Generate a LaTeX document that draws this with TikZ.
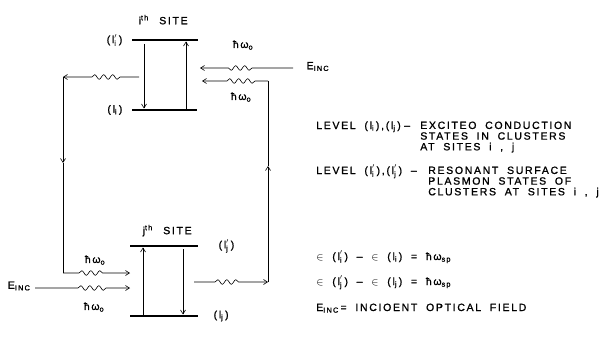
\documentclass[tikz,border=0pt]{standalone}
\usepackage{amsmath}
\usepackage{fontspec}
\setmainfont{Liberation Sans}[LetterSpace=16,WordSpace=1.9,FakeBold=1.2]
\usetikzlibrary{arrows.meta, positioning, calc, decorations.pathmorphing}

\begin{document}
\begin{tikzpicture}[x=1pt, y=-1pt, >={Straight Barb[length=4pt,width=5pt]}, line width=0.6pt,
    font=\fontsize{10.5}{10.7}\selectfont,
    lvl/.style={line width=1.8pt},
    txt/.style={inner sep=0pt, align=left},
    photon/.style 2 args={decorate, decoration={snake, amplitude=2.3pt, segment length=9pt, pre length=#1, post length=#2}}]
    \useasboundingbox (0,0) rectangle (611,337);

    % Site i: two levels with up and down transitions
    \coordinate (uiW) at (132,40);  \coordinate (uiE) at (198,40);
    \coordinate (liW) at (132,110); \coordinate (liE) at (197,110);
    \draw[lvl] (uiW) -- (uiE);
    \draw[lvl] (liW) -- (liE);
    \draw[->] ($(uiW)+(12,4)$) -- ($(liW)+(12,-1.5)$);
    \draw[->] ($(liE)+(-11,0)$) -- ($(uiE)+(-12,1.5)$);
    \node[above=12pt of uiW, anchor=south west, xshift=3pt] (sitei) {i\textsuperscript{th}\quad SITE};
    \node[left=6pt of uiW] (upi) {(\,$\text{l}'_{\text{i}}$\,)};
    \node[left=6pt of liW] (loi) {(\,$\text{l}_{\text{i}}$\,)};

    % Site j: two levels with up and down transitions
    \coordinate (ujW) at (130,246); \coordinate (ujE) at (198,246);
    \coordinate (ljW) at (130,316); \coordinate (ljE) at (198,316);
    \draw[lvl] (ujW) -- (ujE);
    \draw[lvl] (ljW) -- (ljE);
    \draw[->] ($(ljW)+(13,-1)$) -- ($(ujW)+(13,1.5)$);
    \draw[->] ($(ujE)+(-15,3)$) -- ($(ljE)+(-15,-1.5)$);
    \node[above=6pt of ujW, anchor=south west, xshift=9pt] (sitej) {j\textsuperscript{th}\quad SITE};
    \node[right=17pt of ujE] (upj) {(\,$\text{l}'_{\text{j}}$\,)};
    \node[right=12pt of ljE] (loj) {(\,$\text{l}_{\text{j}}$\,)};

    % Incident field and photons into site i
    \coordinate (srcI) at (293,68);
    \coordinate (inIa) at (200,68);
    \node[right=10pt of srcI, yshift=1.5pt] (eincI) {E\textsubscript{INC}};
    \draw[->, photon={41pt}{25pt}] (srcI) -- (inIa);
    \coordinate (cTR) at (268,81);
    \coordinate (inIb) at (202,81);
    \draw[->, photon={13pt}{23pt}] (cTR) -- (inIb);
    \node (hwA) at (243,45) {ħω\textsubscript{o}};
    \node (hwB) at (241,97) {ħω\textsubscript{o}};

    % Photon from site i down to site j (left loop)
    \coordinate (outI) at (139,77);
    \coordinate (cTL) at (63,77);
    \coordinate (cML) at (63,163);
    \coordinate (cBL) at (63,273);
    \coordinate (inJa) at (130,273);
    \draw[->, photon={19pt}{27pt}] (outI) -- (cTL);
    \draw[->] (cTL) -- (cML);
    \draw (cML) -- (cBL);
    \draw[->, photon={16pt}{24pt}] (cBL) -- (inJa);

    % Incident field into site j
    \coordinate (srcJ) at (35,288);
    \coordinate (inJb) at (130,288);
    \node[left=1pt of srcJ, yshift=2pt] (eincJ) {E\textsubscript{INC}};
    \draw[->, photon={43pt}{20pt}] (srcJ) -- (inJb);
    \node (hwC) at (95,260) {ħω\textsubscript{o}};
    \node (hwD) at (94,307) {ħω\textsubscript{o}};

    % Photon from site j back up to site i (right loop)
    \coordinate (outJ) at (194,282);
    \coordinate (cBR) at (268,282);
    \coordinate (cMR) at (268,166);
    \draw[->, photon={21pt}{25pt}] (outJ) -- (cBR);
    \draw[->] (cBR) -- (cMR);
    \draw (cMR) -- (cTR);

    % Legend
    \node[txt, anchor=base west] (lvA) at (316,129) {LEVEL (\,$\text{l}_{\text{i}}$\,)\,,\,(\,$\text{l}_{\text{j}}$\,)\,\,–};
    \node[txt, anchor=north west] (dsA) at (420,121.3) {EXCITEO CONDUCTION\\STATES IN CLUSTERS\\AT SITES i , j};
    \node[txt, anchor=base west] (lvB) at (316,174) {LEVEL (\,$\text{l}'_{\text{i}}$\,)\,,\,(\,$\text{l}'_{\text{j}}$\,) –};
    \node[txt, anchor=north west] (dsB) at (428,166.3) {RESONANT SURFACE\\PLASMON STATES OF\\CLUSTERS AT SITES i , j};
    \node[txt, anchor=base west] (eqA) at (316,260) {$\in$ (\,$\text{l}'_{\text{i}}$\,) – $\in$ (\,$\text{l}_{\text{i}}$\,) = ħω\textsubscript{sp}};
    \node[txt, anchor=base west] (eqB) at (316,285) {$\in$ (\,$\text{l}'_{\text{j}}$\,) – $\in$ (\,$\text{l}_{\text{j}}$\,) = ħω\textsubscript{sp}};
    \node[txt, anchor=base west] (eqC) at (316,311) {E\textsubscript{INC}\,= INCIOENT OPTICAL FIELD};
\end{tikzpicture}
\end{document}
